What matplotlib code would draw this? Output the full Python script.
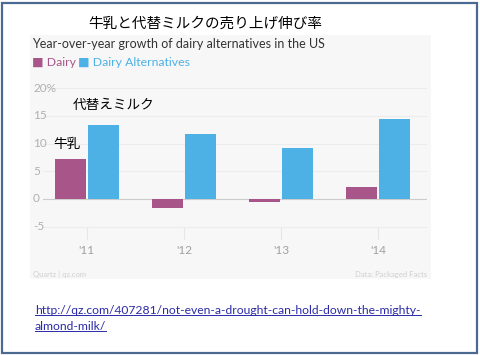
import numpy as np
import matplotlib.pyplot as plt
from matplotlib.patches import Rectangle

years = ["'11", "'12", "'13", "'14"]
dairy = [7.3, -1.6, -0.5, 2.1]
alternatives = [13.3, 11.7, 9.2, 14.4]
yticks = [-5, 0, 5, 10, 15, 20]
ytick_labels = ['-5', '0', '5', '10', '15', '20%']

c_dairy = '#a8558a'
c_alt = '#4db1e5'
grey = '#a0a0a0'

plt.rcParams['font.family'] = ['Noto Sans CJK JP', 'DejaVu Sans']

W, H = 480, 355
fig = plt.figure(figsize=(W / 100, H / 100), dpi=100)
fig.patch.set_facecolor('white')

# slide border
fig.patches.append(Rectangle((2 / W, 2 / H), 475 / W, 350 / H, transform=fig.transFigure,
                             fill=False, edgecolor='#4a6a92', linewidth=1.6))
# chart panel background
fig.patches.append(Rectangle((30 / W, 1 - 279 / H), 401 / W, 244 / H, transform=fig.transFigure,
                             facecolor='#f7f7f7', edgecolor='none', zorder=0))

# axes: x from 43 to 427 px, y from 20 (88px) to -8.5
left, right = 43, 427
y_top_val, y_bot_val = 20, -8.5
px_per_unit = 27.7 / 5
top_px = 199 - 20 * px_per_unit
bot_px = 199 + 8.5 * px_per_unit
ax = fig.add_axes([left / W, 1 - bot_px / H, (right - left) / W, (bot_px - top_px) / H])
ax.set_zorder(2)
ax.set_facecolor('none')
ax.set_ylim(y_bot_val, y_top_val)

x = np.arange(len(years))
w = 0.32
ax.bar(x - w / 2 - 0.01, dairy, width=w, color=c_dairy, zorder=3)
ax.bar(x + w / 2 + 0.01, alternatives, width=w, color=c_alt, zorder=3)
ax.set_xlim(-0.45, 3.5)

for t in yticks:
    ax.axhline(t, color='#ececec' if t != 0 else '#cccccc', linewidth=0.8, zorder=1)
for s in ax.spines.values():
    s.set_visible(False)
ax.set_yticks([])
ax.set_xticks(x)
ax.set_xticklabels(years, family=['Lato', 'DejaVu Sans'], fontsize=8.5, color=grey)
ax.tick_params(axis='x', length=0, pad=-1)
for xi in x:
    ax.plot([xi, xi], [-7.2, -5.2], color='#e6e6e6', linewidth=0.8, zorder=1)

for t, lab in zip(yticks, ytick_labels):
    fig.text(33 / W, 1 - (199 - t * px_per_unit) / H, lab, ha='left', va='center',
             family=['Lato', 'DejaVu Sans'], fontsize=8.5, color='#b0b0b0', zorder=3)

fig.text(205 / W, 1 - 24 / H, '牛乳と代替ミルクの売り上げ伸び率', ha='center', va='center',
         fontsize=10.5, color='black')
fig.text(32 / W, 1 - 44 / H, 'Year-over-year growth of dairy alternatives in the US',
         ha='left', va='center', family=['Lato', 'DejaVu Sans'], fontsize=9.0, color='#333333')
fig.text(32 / W, 1 - 63 / H, '■ Dairy', ha='left', va='center',
         family=['Lato', 'DejaVu Sans'], fontsize=8.8, color=c_dairy)
fig.text(78 / W, 1 - 63 / H, '■ Dairy Alternatives', ha='left', va='center',
         family=['Lato', 'DejaVu Sans'], fontsize=8.8, color=c_alt)

fig.text(73 / W, 1 - 105 / H, '代替えミルク', ha='left', va='center', fontsize=9.8,
         color='black', zorder=4)
fig.text(53 / W, 1 - 144 / H, '牛乳', ha='left', va='center', fontsize=9.8,
         color='black', zorder=4)

fig.text(33 / W, 1 - 274 / H, 'Quartz | qz.com', ha='left', va='center',
         family=['Lato', 'DejaVu Sans'], fontsize=5.5, color='#cfcfcf')
fig.text(427 / W, 1 - 274 / H, 'Data: Packaged Facts', ha='right', va='center',
         family=['Lato', 'DejaVu Sans'], fontsize=5.5, color='#cfcfcf')

url_style = dict(ha='left', va='center', family=['Lato', 'DejaVu Sans'], fontsize=8.7,
                 color='#2a2aa8')
t1 = fig.text(35 / W, 1 - 311 / H, 'http://qz.com/407281/not-even-a-drought-can-hold-down-the-mighty-',
              **url_style)
t2 = fig.text(35 / W, 1 - 327 / H, 'almond-milk/', **url_style)

fig.canvas.draw()
r = fig.canvas.get_renderer()
for t in (t1, t2):
    bb = t.get_window_extent(r).transformed(fig.transFigure.inverted())
    fig.add_artist(plt.Line2D([bb.x0, bb.x1], [bb.y0 + 1.5 / H, bb.y0 + 1.5 / H],
                              transform=fig.transFigure, color='#2a2aa8', linewidth=0.7))

fig.savefig('out.png', dpi=100)
